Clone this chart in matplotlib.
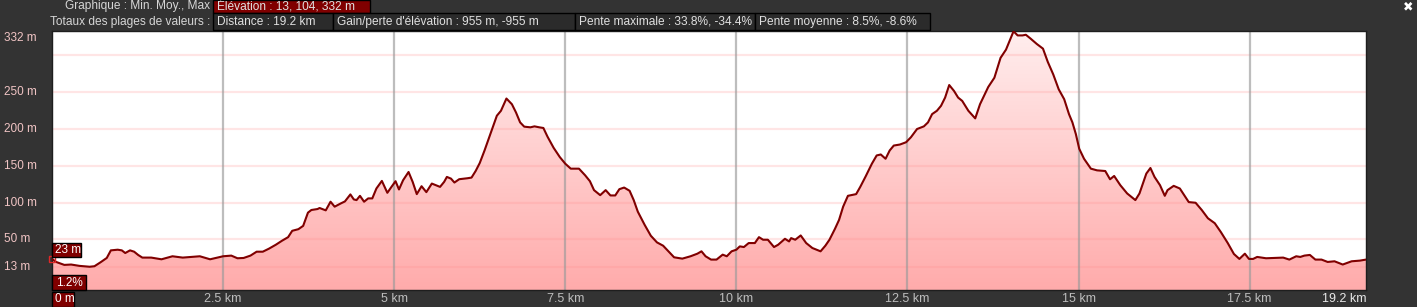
import numpy as np
import matplotlib
matplotlib.use("Agg")
import matplotlib.pyplot as plt
from matplotlib.patches import Rectangle
from matplotlib.colors import LinearSegmentedColormap

# profil d'elevation (km, m)
distance_km = [0, 0.06, 0.18, 0.28, 0.40, 0.55, 0.62, 0.71, 0.80, 0.86, 0.96, 1.02, 1.07, 1.14, 1.20, 1.26,
               1.32, 1.45, 1.60, 1.76, 1.91, 2.16, 2.31, 2.50, 2.62, 2.71, 2.80, 2.90, 2.99, 3.08, 3.17,
               3.27, 3.36, 3.45, 3.51, 3.60, 3.67, 3.74, 3.79, 3.88, 3.91, 4.00, 4.07, 4.13, 4.22, 4.28,
               4.36, 4.41, 4.45, 4.50, 4.56, 4.62, 4.68, 4.74, 4.82, 4.90, 4.96, 5.02, 5.07, 5.13, 5.21,
               5.27, 5.33, 5.40, 5.47, 5.55, 5.61, 5.67, 5.73, 5.77, 5.83, 5.88, 5.95, 6.07, 6.13, 6.19,
               6.25, 6.32, 6.38, 6.44, 6.50, 6.56, 6.64, 6.72, 6.78, 6.84, 6.90, 6.99, 7.05, 7.12, 7.18,
               7.24, 7.33, 7.42, 7.50, 7.58, 7.70, 7.79, 7.86, 7.92, 8.01, 8.09, 8.16, 8.23, 8.29, 8.36,
               8.44, 8.50, 8.56, 8.66, 8.75, 8.84, 8.93, 9.03, 9.09, 9.21, 9.33, 9.43, 9.49, 9.55, 9.63,
               9.71, 9.80, 9.86, 9.93, 10.00, 10.05, 10.11, 10.18, 10.27, 10.33, 10.39, 10.46, 10.55,
               10.61, 10.71, 10.77, 10.80, 10.86, 10.94, 11.02, 11.11, 11.23, 11.30, 11.36, 11.44, 11.50,
               11.56, 11.63, 11.75, 11.81, 11.89, 11.98, 12.05, 12.11, 12.18, 12.24, 12.30, 12.39, 12.48,
               12.55, 12.64, 12.74, 12.80, 12.86, 12.93, 12.99, 13.05, 13.11, 13.18, 13.24, 13.30, 13.39,
               13.49, 13.56, 13.68, 13.77, 13.86, 13.94, 13.99, 14.05, 14.11, 14.18, 14.23, 14.30, 14.39,
               14.48, 14.55, 14.63, 14.71, 14.79, 14.86, 14.91, 14.96, 15.01, 15.08, 15.18, 15.27, 15.39,
               15.46, 15.52, 15.61, 15.71, 15.77, 15.83, 15.89, 15.99, 16.05, 16.11, 16.19, 16.26, 16.30,
               16.39, 16.48, 16.55, 16.61, 16.71, 16.80, 16.89, 16.99, 17.08, 17.18, 17.27, 17.35, 17.43,
               17.49, 17.55, 17.61, 17.74, 17.86, 17.99, 18.08, 18.18, 18.24, 18.30, 18.38, 18.46, 18.55,
               18.64, 18.74, 18.86, 18.99, 19.11, 19.20]
elevation_m = [23.6, 19.5, 15.5, 16.0, 14.2, 13.0, 13.7, 19.1, 24.9, 35.2, 36.1, 35.2, 31.6, 35.2, 33.4, 28.9,
               25.4, 25.4, 23.1, 27.2, 25.4, 27.2, 23.1, 27.2, 28.1, 24.5, 24.9, 28.1, 33.4, 33.4,
               37.5, 42.8, 48.2, 53.1, 61.7, 63.9, 68.4, 86.3, 89.9, 91.2, 92.6, 89.4, 101.1, 94.4,
               98.8, 101.5, 111.0, 104.2, 103.3, 109.1, 101.1, 105.6, 105.6, 119.0, 129.3, 113.2,
               121.2, 128.9, 117.7, 130.2, 141.4, 128.0, 111.4, 122.1, 114.1, 125.7, 123.5, 121.2,
               128.0, 134.7, 132.4, 127.1, 131.6, 132.9, 133.8, 142.7, 153.5, 170.5, 186.2, 201.9,
               217.6, 224.3, 240.9, 233.2, 222.0, 208.6, 202.8, 201.9, 203.2, 201.9, 201.0, 189.3,
               174.1, 161.6, 152.6, 145.9, 145.9, 136.9, 128.9, 116.8, 110.0, 116.8, 109.6, 109.6,
               118.1, 120.3, 115.9, 103.3, 87.6, 69.7, 55.0, 46.0, 41.5, 31.6, 25.8, 24.0, 27.2, 30.7,
               33.9, 27.2, 22.7, 22.7, 29.4, 27.2, 33.9, 36.1, 40.6, 39.7, 45.1, 45.1, 53.1, 49.6, 49.6, 39.7,
               42.8, 50.9, 47.3, 51.8, 49.6, 55.4, 45.1, 38.4, 33.9, 41.5, 49.6, 64.3, 76.4, 94.4,
               109.1, 111.4, 121.2, 135.6, 152.6, 163.8, 165.1, 159.3, 170.5, 177.2, 178.6, 181.7,
               188.4, 199.6, 203.2, 208.6, 219.8, 224.3, 231.0, 242.2, 259.2, 251.2, 242.2, 237.7,
               224.3, 214.0, 233.2, 256.5, 269.1, 296.0, 307.2, 318.4, 332.0, 326.4, 326.4, 327.3,
               322.0, 314.8, 308.5, 290.6, 273.6, 253.4, 240.0, 219.8, 208.6, 192.9, 172.8, 159.3,
               145.9, 143.6, 142.7, 131.5, 136.0, 123.5, 112.3, 107.8, 103.3, 112.3, 139.2, 146.8,
               134.7, 123.5, 109.1, 116.8, 122.6, 119.0, 109.1, 100.6, 99.7, 89.9, 78.7, 72.0, 59.9,
               45.1, 30.3, 23.6, 30.7, 23.6, 23.6, 26.3, 24.5, 24.9, 25.4, 22.7, 27.2, 26.3, 28.1,
               29.0, 22.7, 22.7, 19.5, 20.4, 16.0, 20.4, 21.3, 22.7]

x_ticks = [2.5, 5, 7.5, 10, 12.5, 15, 17.5]
x_labels = ["2.5 km", "5 km", "7.5 km", "10 km", "12.5 km", "15 km", "17.5 km"]
y_ticks = [13, 50, 100, 150, 200, 250, 332]
y_labels = ["13 m", "50 m", "100 m", "150 m", "200 m", "250 m", "332 m"]
y_grid = [13, 50, 100, 150, 200, 250, 300]

header_boxes = [
    (213, 0, 370, 13, "Élévation : 13, 104, 332 m", "#800000"),
    (213, 13, 333, 30, "Distance : 19.2 km", "#2b2b2b"),
    (333, 13, 575, 30, "Gain/perte d'élévation : 955 m, -955 m", "#2b2b2b"),
    (575, 13, 755, 30, "Pente maximale : 33.8%, -34.4%", "#2b2b2b"),
    (755, 13, 930, 30, "Pente moyenne : 8.5%, -8.6%", "#2b2b2b"),
]

W, H = 1417, 307
BG = "#333333"
plt.rcParams['font.family'] = ['Liberation Sans', 'DejaVu Sans']

fig = plt.figure(figsize=(W / 100, H / 100), dpi=100, facecolor=BG)


def px_box(x0, y0, x1, y1, face, edge="black", lw=1.0):
    fig.patches.append(Rectangle((x0 / W, 1 - y1 / H), (x1 - x0) / W, (y1 - y0) / H,
                                 transform=fig.transFigure, facecolor=face, edgecolor=edge, lw=lw))


def px_text(x, y, s, **kw):
    fig.text(x / W, 1 - y / H, s, **kw)


left, right, top, bottom = 52, 1366, 31, 290
ax = fig.add_axes([left / W, 1 - bottom / H, (right - left) / W, (bottom - top) / H])
ax.set_facecolor("white")

ymin, ymax = -18.5, 332.4
ax.set_xlim(0, 19.2)
ax.set_ylim(ymin, ymax)

poly = ax.fill_between(distance_km, elevation_m, ymin, facecolor="none", edgecolor="none")
cmap = LinearSegmentedColormap.from_list("rose", ["#ffabab", "#ffeeee"])
grad = np.linspace(0, 1, 256).reshape(-1, 1)
im = ax.imshow(grad, extent=[0, 19.2, ymin, ymax], aspect="auto", cmap=cmap, origin="lower", zorder=1)
im.set_clip_path(poly.get_paths()[0], transform=ax.transData)

for yv in y_grid:
    ax.axhline(yv, color=(1, 0.55, 0.55), alpha=0.22, lw=1.6, zorder=2)
for xv in x_ticks:
    ax.axvline(xv, color="#9a9a9a", alpha=0.65, lw=1.6, zorder=2)

ax.plot(distance_km, elevation_m, color="#800000", lw=1.5, zorder=3, solid_joinstyle="round")
ax.plot([0], [23], marker="s", mfc="none", mec="#e02828", ms=5, mew=1, clip_on=False, zorder=4)

ax.set_xticks([])
ax.set_yticks([])
for s in ax.spines.values():
    s.set_color("#1e1e1e")
    s.set_linewidth(1)

# etiquettes des axes
for yv, lab in zip(y_ticks, y_labels):
    yp = ax.transData.transform((0, yv))[1]
    if yv == 332:
        px_text(4, 38, lab, color="#f0c4c4", fontsize=8.5, ha="left", va="center")
    else:
        fig.text(4 / W, yp / fig.bbox.height, lab, color="#f0c4c4", fontsize=8.5, ha="left", va="center")

for xv, lab in zip(x_ticks, x_labels):
    xp = ax.transData.transform((xv, 0))[0]
    fig.text(xp / fig.bbox.width, 1 - 299 / H, lab, color="#bdbdbd", fontsize=9, ha="center", va="center")
px_text(1366, 299, "19.2 km", color="#e8e8e8", fontsize=9, ha="right", va="center")

# curseur
px_box(52, 243, 81, 257, "#800000")
px_text(55, 250, "23 m", color="white", fontsize=8.5, ha="left", va="center")
px_box(52, 275, 86, 290, "#800000")
px_text(56, 282.5, "1.2%", color="white", fontsize=8.5, ha="left", va="center")
px_box(52, 292, 74, 307, "#800000")
px_text(55, 299.5, "0 m", color="white", fontsize=8.5, ha="left", va="center")

# entete
px_text(210, 6.5, "Graphique : Min. Moy., Max", color="#d6d6d6", fontsize=8.6, ha="right", va="center")
px_text(210, 21.5, "Totaux des plages de valeurs :", color="#d6d6d6", fontsize=8.6, ha="right", va="center")
for x0, y0, x1, y1, txt, face in header_boxes:
    px_box(x0, y0, x1, y1, face)
    px_text(x0 + 4, (y0 + y1) / 2 + 0.5, txt, color="#e0e0e0", fontsize=8.6, ha="left", va="center")

px_text(1408, 7, "✖", color="white", fontsize=9, ha="center", va="center", family="DejaVu Sans")

fig.savefig("out.png", dpi=100, facecolor=BG)
